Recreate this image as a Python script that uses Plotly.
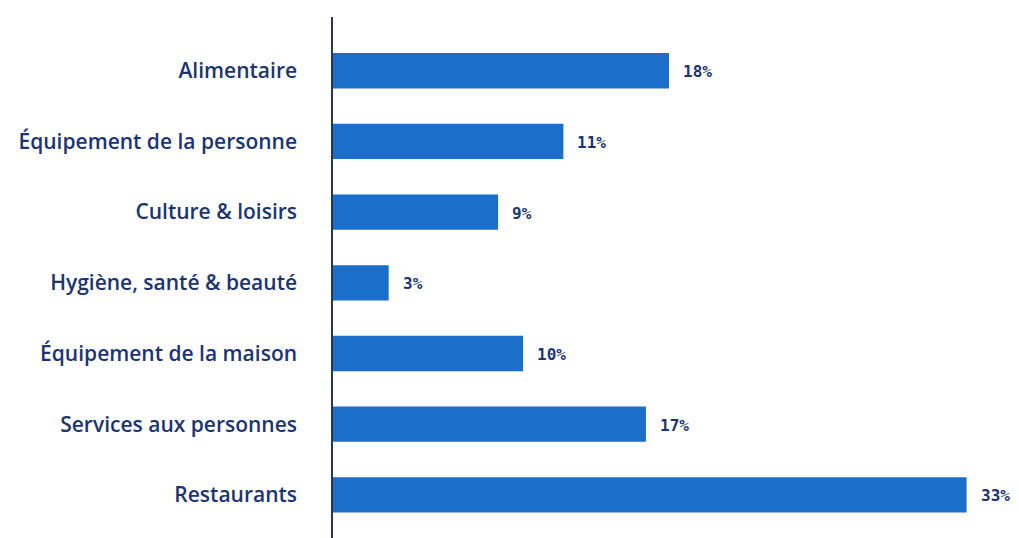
import plotly.graph_objects as go

categories = ["Alimentaire", "Équipement de la personne", "Culture & loisirs",
              "Hygiène, santé & beauté", "Équipement de la maison",
              "Services aux personnes", "Restaurants"]
values = [17.5, 12.0, 8.6, 2.9, 9.9, 16.3, 33.0]
value_labels = ["18%", "11%", "9%", "3%", "10%", "17%", "33%"]

bar_color = "#1b6fcb"
text_color = "#1c3571"

fig = go.Figure(go.Bar(
    x=values, y=categories, orientation="h",
    marker=dict(color=bar_color, line=dict(width=0)),
    width=0.5, hoverinfo="skip",
))

for c, v, t in zip(categories, values, value_labels):
    fig.add_annotation(x=v, y=c, text="<b>" + t + "</b>", showarrow=False, xanchor="left",
                       xshift=12, yshift=-1,
                       font=dict(family="DejaVu Sans Mono", size=16, color=text_color))

fig.update_layout(
    width=1019, height=538,
    margin=dict(l=333, r=14, t=17, b=0),
    paper_bgcolor="white", plot_bgcolor="white",
    showlegend=False,
    xaxis=dict(range=[0, 35], visible=False, fixedrange=True),
    yaxis=dict(categoryorder="array", categoryarray=categories,
               autorange=False, range=[6.61, -0.76],
               showgrid=False, zeroline=False,
               showline=True, linecolor="#2a3550", linewidth=1.5,
               ticks="", ticklabelstandoff=30,
               tickfont=dict(family="Open Sans", size=21, weight=600, color=text_color)),
)

fig.write_html("out.html")
